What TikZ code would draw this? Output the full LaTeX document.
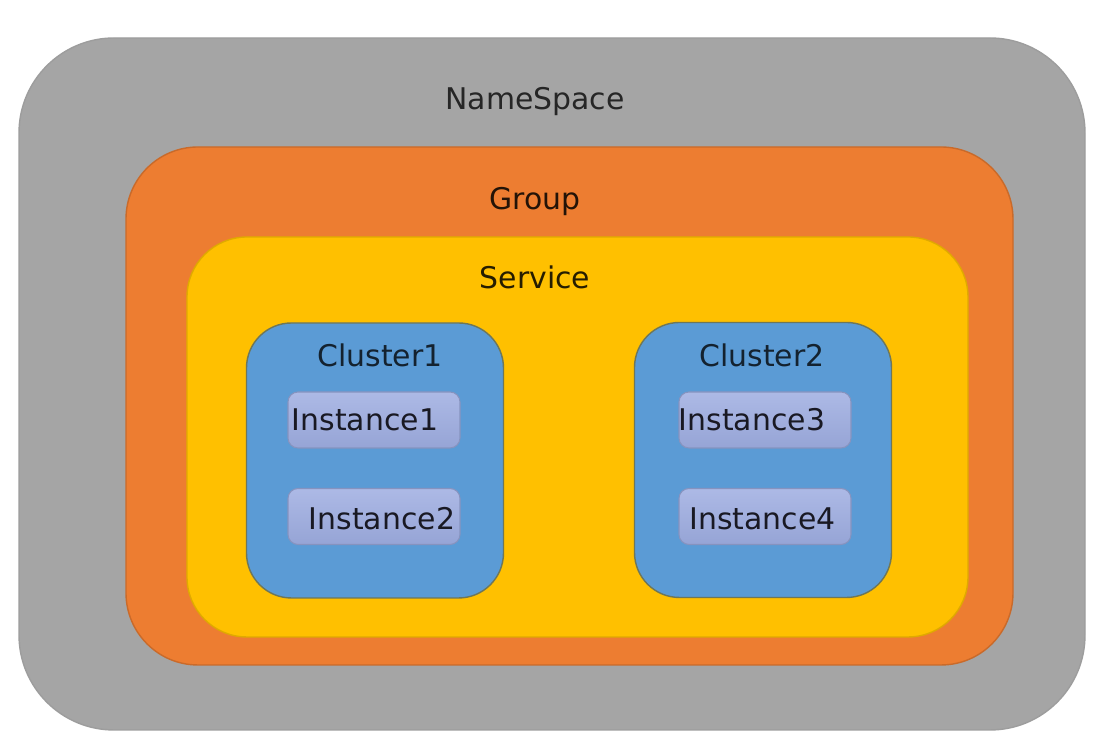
\documentclass[tikz,border=0pt]{standalone}
\usepackage{fontspec}
\setmainfont{DejaVu Sans}
\definecolor{nsgray}{RGB}{165,165,165}
\definecolor{grouporange}{RGB}{237,125,49}
\definecolor{serviceyellow}{RGB}{255,192,0}
\definecolor{clusterblue}{RGB}{91,155,213}
\definecolor{instlavender}{RGB}{158,173,225}
\definecolor{darktext}{RGB}{25,25,35}
\tikzset{
  layer box/.style={
    rectangle,
    inner sep=0pt,
    line width=0.4pt
  },
  ns box/.style={layer box,fill=nsgray,draw=nsgray!95!black,
    minimum width=10.66cm,minimum height=6.92cm,rounded corners=0.95cm},
  group box/.style={layer box,fill=grouporange,draw=grouporange!85!black,
    minimum width=8.87cm,minimum height=5.18cm,rounded corners=0.72cm},
  service box/.style={layer box,fill=serviceyellow,draw=serviceyellow!88!black,
    minimum width=7.81cm,minimum height=4.00cm,rounded corners=0.6cm},
  cluster box/.style={layer box,fill=clusterblue,draw=clusterblue!60!serviceyellow!70!black,
    minimum width=2.57cm,minimum height=2.75cm,rounded corners=0.45cm},
  instance box/.style={layer box,draw=instlavender!85!black,line width=0.3pt,
    top color=instlavender!85!white,bottom color=instlavender!95!black,
    minimum width=1.72cm,minimum height=0.56cm,rounded corners=0.1cm},
  box label/.style={anchor=base,inner sep=0pt,
    font=\fontsize{8.5}{10}\selectfont},
  inst label/.style={box label,text=darktext}
}

\begin{document}
\begin{tikzpicture}
  \useasboundingbox[fill=white] (0,0) rectangle (11.16,7.54);

  % nested layers
  \node[ns box] (namespace) at (5.52,3.70) {};
  \node[group box] (group) at (5.695,3.48) {};
  \node[service box] (service) at (5.775,3.17) {};
  \node[cluster box] (cluster1) at (3.75,2.935) {};
  \node[cluster box] (cluster2) at (7.63,2.94) {};

  % instances
  \node[instance box] (inst1) at (3.74,3.34) {};
  \node[instance box] (inst2) at (3.74,2.375) {};
  \node[instance box] (inst3) at (7.65,3.34) {};
  \node[instance box] (inst4) at (7.65,2.375) {};

  % labels
  \node[box label,text=black!85] (nslabel) at (5.35,6.44) {NameSpace};
  \node[box label,text=black!85!grouporange] (grouplabel) at (5.35,5.44) {Group};
  \node[box label,text=black!85!serviceyellow] (servicelabel) at (5.35,4.65) {Service};
  \node[box label,text=black!78!clusterblue] (c1label) at (3.80,3.87) {Cluster1};
  \node[box label,text=black!78!clusterblue] (c2label) at (7.62,3.87) {Cluster2};
  \node[inst label] (i1label) at (3.65,3.23) {Instance1};
  \node[inst label] (i2label) at (3.82,2.24) {Instance2};
  \node[inst label] (i3label) at (7.52,3.23) {Instance3};
  \node[inst label] (i4label) at (7.625,2.24) {Instance4};
\end{tikzpicture}
\end{document}
